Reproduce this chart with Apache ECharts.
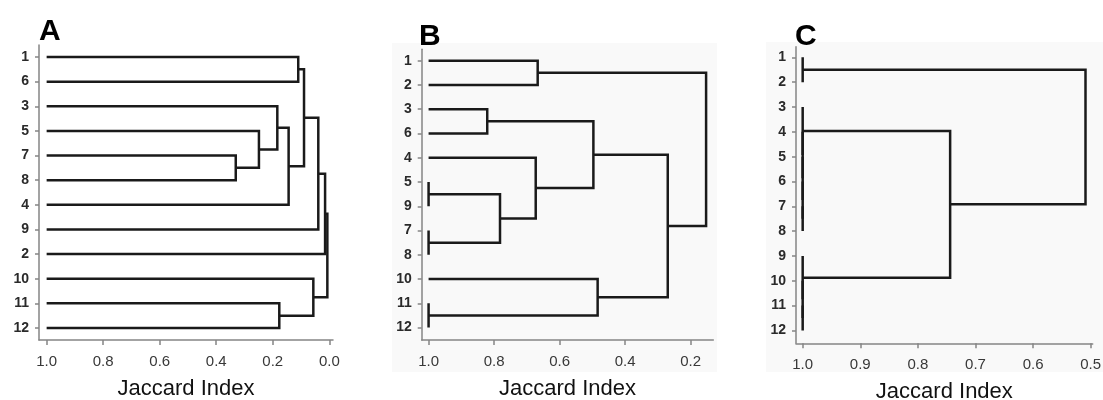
<!DOCTYPE html>
<html>
<head>
<meta charset="utf-8">
<script src="https://cdn.jsdelivr.net/npm/echarts@6/dist/echarts.min.js"></script>
<style>
html,body{margin:0;padding:0;background:#fff;}
#chart{width:1103px;height:400px;}
</style>
</head>
<body>
<div id="chart"></div>
<script>
// ---- Data ----
// Leaf order (top to bottom) for each dendrogram
const leavesA = ['1','6','3','5','7','8','4','9','2','10','11','12'];
const leavesB = ['1','2','3','6','4','5','9','7','8','10','11','12'];
const leavesC = ['1','2','3','4','5','6','7','8','9','10','11','12'];
// Merges: [childA, childB, Jaccard index]; ids < 12 are leaf rows, 12+k is merge k
const mergesA = [[0,1,0.110],[4,5,0.331],[3,13,0.249],[2,14,0.184],[15,6,0.144],[12,16,0.0895],[17,7,0.039],[10,11,0.177],[9,19,0.0566],[18,8,0.015],[21,20,0.007]];
const mergesB = [[0,1,0.667],[2,3,0.821],[5,6,1.0],[7,8,1.0],[14,15,0.782],[4,16,0.673],[13,17,0.497],[10,11,1.0],[9,19,0.484],[18,20,0.270],[12,21,0.153]];
const mergesC = [[0,1,1.0],[6,7,1.0],[5,13,1.0],[4,14,1.0],[3,15,1.0],[2,16,1.0],[10,11,1.0],[9,18,1.0],[8,19,1.0],[17,20,0.744],[12,21,0.509]];
// Axis tick values
const xTicksA = [1.0,0.8,0.6,0.4,0.2,0.0];
const xTicksB = [1.0,0.8,0.6,0.4,0.2];
const xTicksC = [1.0,0.9,0.8,0.7,0.6,0.5];
const panelLetters = ['A','B','C'];
const xAxisTitle = 'Jaccard Index';

// ---- Build ----
function dendroLinks(leaves, merges) {
  const pos = leaves.map((l, i) => ({y: i, h: 1.0}));
  const links = [];
  merges.forEach(([a, b, h]) => {
    const pa = pos[a], pb = pos[b];
    links.push({coords: [[pa.h, pa.y],[h, pa.y],[h, pb.y],[pb.h, pb.y]]});
    pos.push({y: (pa.y + pb.y) / 2, h: h});
  });
  return links;
}
const FONT = 'Liberation Sans, Arial, Helvetica, sans-serif';
const rowIdx = leavesA.map((_, i) => i);

const panels = [
  {leaves: leavesA, merges: mergesA, ticks: xTicksA, grid: {left: 39, top: 45, width: 294, height: 295}, x: [-0.013, 1.027], y: [-0.487, 11.487]},
  {leaves: leavesB, merges: mergesB, ticks: xTicksB, grid: {left: 421.7, top: 49.3, width: 291.6, height: 290.7}, x: [0.131, 1.021], y: [-0.47, 11.51]},
  {leaves: leavesC, merges: mergesC, ticks: xTicksC, grid: {left: 796, top: 46.7, width: 296.7, height: 296.6}, x: [0.4965, 1.0116], y: [-0.43, 11.52]}
];

const axisLineStyle = {color: '#858585', width: 1.5};
const option = {
  animation: false,
  backgroundColor: '#fff',
  graphic: [
    {type: 'rect', shape: {x: 392, y: 43, width: 325, height: 329}, style: {fill: '#f9f9f9'}, z: -10},
    {type: 'rect', shape: {x: 766, y: 42, width: 337, height: 330}, style: {fill: '#f9f9f9'}, z: -10}
  ],
  title: [
    {text: panelLetters[0], left: 39, top: 17, padding: 0, textStyle: {fontFamily: FONT, fontSize: 30, fontWeight: 'bold', color: '#000'}},
    {text: panelLetters[1], left: 419, top: 22, padding: 0, textStyle: {fontFamily: FONT, fontSize: 30, fontWeight: 'bold', color: '#000'}},
    {text: panelLetters[2], left: 795, top: 22, padding: 0, textStyle: {fontFamily: FONT, fontSize: 30, fontWeight: 'bold', color: '#000'}}
  ],
  grid: panels.map(p => Object.assign({containLabel: false, outerBoundsMode: 'none'}, p.grid)),
  xAxis: panels.map((p, i) => ({
    type: 'value', gridIndex: i, inverse: true, min: p.x[0], max: p.x[1], position: 'bottom',
    axisLine: {show: true, onZero: false, lineStyle: axisLineStyle},
    axisTick: {show: true, length: 5, lineStyle: axisLineStyle, customValues: p.ticks},
    axisLabel: {customValues: p.ticks, formatter: v => Number(v).toFixed(1), margin: 14, fontFamily: FONT, fontSize: 15, color: '#383838', hideOverlap: false},
    splitLine: {show: false},
    name: xAxisTitle, nameLocation: 'middle', nameGap: 38,
    nameTextStyle: {fontFamily: FONT, fontSize: 22, color: '#111'}
  })),
  yAxis: panels.map((p, i) => ({
    type: 'value', gridIndex: i, inverse: true, min: p.y[0], max: p.y[1], position: 'left',
    axisLine: {show: true, onZero: false, lineStyle: axisLineStyle},
    axisTick: {show: true, length: 4, lineStyle: axisLineStyle, customValues: rowIdx},
    axisLabel: {customValues: rowIdx, formatter: v => p.leaves[Math.round(v)], margin: 10, fontFamily: FONT, fontSize: 14, fontWeight: 'bold', color: '#2a2a2a'},
    splitLine: {show: false}
  })),
  series: panels.map((p, i) => ({
    type: 'lines', coordinateSystem: 'cartesian2d', xAxisIndex: i, yAxisIndex: i,
    polyline: true, silent: true,
    lineStyle: {color: '#1a1a1a', width: 2.5, opacity: 1, curveness: 0, join: 'miter', cap: 'butt'},
    data: dendroLinks(p.leaves, p.merges)
  }))
};
const chart = echarts.init(document.getElementById('chart'), null, {renderer: 'canvas'});
chart.setOption(option);
</script>
</body>
</html>
